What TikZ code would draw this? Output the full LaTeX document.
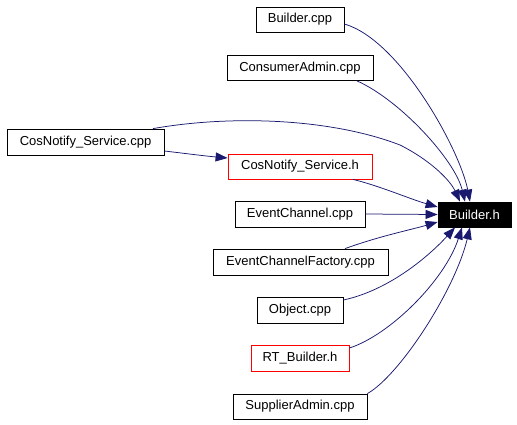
\documentclass[tikz,border=0pt]{standalone}
\usepackage{fontspec}
\setmainfont{Liberation Sans}
\usetikzlibrary{arrows.meta}
\definecolor{edgeblue}{HTML}{191970}
\definecolor{boxred}{HTML}{FF0000}
\begin{document}
\begin{tikzpicture}[x=1pt,y=-1pt,
  filebox/.style={draw=black,line width=0.8pt,fill=white,inner sep=0pt,
    font=\fontsize{13pt}{15pt}\selectfont,text=black,minimum height=25pt},
  redbox/.style={filebox,draw=boxred},
  focusbox/.style={filebox,fill=black,text=white},
  dep/.style={draw=edgeblue,line width=0.75pt,-{Triangle[length=12pt,width=9pt,fill=edgeblue]}}]
\fill[white] (0,0) rectangle (517,424);
\useasboundingbox (0,0) rectangle (517,424);
\node[filebox,minimum width=88pt] (bcpp) at (300,19.5) {Builder.cpp};
\node[filebox,minimum width=146pt] (cadm) at (300,68) {ConsumerAdmin.cpp};
\node[filebox,minimum width=157pt,minimum height=26pt] (cscpp) at (85.5,142) {CosNotify\_Service.cpp};
\node[redbox,minimum width=144pt] (csh) at (300,166.5) {CosNotify\_Service.h};
\node[filebox,minimum width=130pt,minimum height=26pt] (ec) at (300,214) {EventChannel.cpp};
\node[focusbox,minimum width=73pt] (B) at (474.5,214.5) {Builder.h};
\node[filebox,minimum width=175pt,minimum height=26pt] (ecf) at (300.5,262) {EventChannelFactory.cpp};
\node[filebox,minimum width=86pt,minimum height=26pt] (obj) at (300,310) {Object.cpp};
\node[redbox,minimum width=98pt,minimum height=26pt] (rt) at (300,358) {RT\_Builder.h};
\node[filebox,minimum width=134pt] (sa) at (300,406.5) {SupplierAdmin.cpp};

\draw[dep] ([yshift=-4.5pt]bcpp.east) .. controls (400,40) and (460,150) .. ([xshift=-4.5pt]B.north);
\draw[dep] ([xshift=57pt]cadm.south) .. controls (400,100) and (455,160) .. ([xshift=-9.5pt]B.north);
\draw[dep] ([xshift=67.5pt]cscpp.north) .. controls (230,115) and (330,118) .. (400,145) .. controls (430,160) and (450,180) .. ([xshift=-14.5pt]B.north);
\draw[dep] ([yshift=-9pt]cscpp.east) .. controls (190,154) and (205,156) .. ([yshift=8.5pt]csh.west);
\draw[dep] ([xshift=53pt]csh.south) .. controls (380,186) and (410,199) .. ([yshift=7.5pt]B.west);
\draw[dep] (ec.east) -- (B.west);
\draw[dep] ([xshift=44.5pt]ecf.north) .. controls (380,236) and (410,230) .. ([yshift=-7.5pt]B.west);
\draw[dep] ([yshift=10pt]obj.east) .. controls (390,290) and (430,255) .. ([xshift=-19.5pt]B.south);
\draw[dep] ([yshift=10pt]rt.east) .. controls (390,335) and (445,280) .. ([xshift=-12.5pt]B.south);
\draw[dep] (sa.north east) .. controls (400,375) and (455,290) .. ([xshift=-4.5pt]B.south);
\end{tikzpicture}
\end{document}
